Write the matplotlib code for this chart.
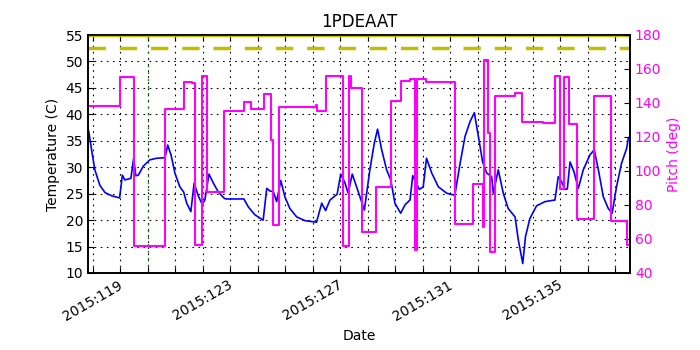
import matplotlib
matplotlib.use("Agg")
import matplotlib.pyplot as plt
from matplotlib.ticker import FixedLocator, FuncFormatter
import numpy as np

title = "1PDEAAT"
planning_limit = 52.5
caution_limit = 55.0
marker_day = 121.0

# temperature (C) vs day of year 2015
temp_days = [118.82, 118.85, 118.95, 119.07, 119.25, 119.44, 119.68, 119.97, 120.07, 120.16,
             120.38, 120.48, 120.56, 120.65, 120.83, 121.07, 121.32, 121.62, 121.72, 121.84,
             121.98, 122.16, 122.30, 122.41, 122.56, 122.68, 122.83, 122.97, 123.07, 123.22,
             123.38, 123.56, 123.78, 123.86, 124.49, 124.65, 124.89, 125.19, 125.32, 125.44,
             125.56, 125.68, 125.83, 125.98, 126.16, 126.41, 126.71, 127.13, 127.32, 127.46,
             127.62, 127.88, 128.01, 128.16, 128.28, 128.43, 128.71, 128.87, 129.07, 129.23,
             129.35, 129.50, 129.68, 129.83, 129.98, 130.19, 130.35, 130.53, 130.63, 130.73,
             130.87, 131.01, 131.13, 131.32, 131.56, 131.86, 132.16, 132.35, 132.53, 132.71,
             132.87, 133.04, 133.17, 133.32, 133.50, 133.56, 133.74, 133.92, 134.10, 134.35,
             134.47, 134.63, 134.73, 134.89, 135.13, 135.44, 135.80, 135.92, 136.04, 136.16,
             136.25, 136.35, 136.49, 136.65, 136.83, 137.07, 137.23, 137.38, 137.56, 137.74,
             137.88, 138.04, 138.22, 138.41, 138.47, 138.53]
temp_vals = [37.2, 36.7, 33.3, 29.5, 26.6, 25.2, 24.6, 24.2, 28.5, 27.6,
             27.9, 31.7, 28.4, 28.5, 30.2, 31.4, 31.7, 31.8, 34.2, 32.3,
             28.9, 26.3, 25.3, 23.2, 21.6, 27.0, 24.6, 23.0, 23.8, 28.7,
             27.0, 25.3, 24.1, 24.0, 24.0, 22.5, 21.0, 20.0, 26.0, 25.5,
             25.4, 23.5, 27.5, 24.4, 22.2, 20.6, 19.9, 19.6, 23.2, 21.8,
             23.8, 24.9, 28.7, 27.1, 25.1, 28.7, 24.4, 21.9, 29.5, 34.5,
             37.2, 33.3, 29.5, 27.6, 23.2, 21.3, 22.9, 23.8, 28.4, 27.3,
             25.8, 26.3, 31.7, 28.9, 26.3, 25.1, 24.7, 30.7, 35.8, 38.6,
             40.3, 35.1, 31.0, 28.9, 28.2, 25.1, 29.5, 25.1, 22.2, 20.6,
             16.2, 11.8, 16.9, 20.3, 22.7, 23.5, 23.8, 28.2, 27.3, 25.8,
             25.9, 31.0, 29.2, 26.0, 29.5, 32.3, 33.3, 29.5, 24.4, 22.2,
             21.3, 26.3, 30.7, 33.6, 35.5, 35.8]

# pitch (deg): value held from each change time
pitch_days = [118.80, 119.98, 120.49, 121.63, 122.30, 122.61, 122.71, 122.95, 123.16, 123.76,
              124.49, 124.75, 125.23, 125.46, 125.53, 125.78, 127.10, 127.14, 127.46, 128.08,
              128.30, 128.38, 128.79, 129.30, 129.84, 130.19, 130.53, 130.71, 130.79, 131.11,
              132.16, 132.83, 133.17, 133.22, 133.36, 133.44, 133.62, 134.35, 134.62, 135.35,
              135.80, 136.00, 136.13, 136.32, 136.61, 137.23, 137.83, 138.43, 138.53]
pitch_vals = [138.0, 155.5, 56.0, 136.3, 152.3, 151.6, 56.5, 156.0, 87.5, 135.5,
              140.8, 136.5, 145.5, 118.2, 68.2, 137.8, 139.0, 135.5, 155.9, 55.9,
              155.9, 148.6, 64.1, 90.8, 141.4, 153.1, 154.1, 53.5, 154.1, 152.5,
              68.8, 92.5, 67.2, 165.3, 122.2, 52.5, 144.3, 146.0, 129.0, 128.4,
              155.9, 89.2, 155.5, 127.8, 71.8, 144.1, 70.8, 56.5, 56.5]

label_days = [119, 123, 127, 131, 135]

dots = (0, (1.5, 4))

fig = plt.figure(figsize=(7, 3.5), dpi=100)
ax = fig.add_axes([0.1257, 0.22, 0.7743, 0.68])

ax.plot(temp_days, temp_vals, color="b", lw=1.2)
ax.axhline(caution_limit, color=(0.75, 0.75, 0), lw=2.5, zorder=5)
ax.axhline(planning_limit, color=(0.75, 0.75, 0), lw=2.5, ls="--", dashes=(5, 4))
ax.axvline(marker_day, color=(0, 0.5, 0), ls=dots, lw=0.9)

ax.set_xlim(118.82, 138.53)
ax.set_ylim(10, 55)
ax.set_yticks(np.arange(10, 56, 5))
ax.xaxis.set_major_locator(FixedLocator(np.arange(119, 139)))
ax.xaxis.set_major_formatter(FuncFormatter(
    lambda v, p: "2015:%03d" % int(round(v)) if int(round(v)) in label_days else ""))
for lbl in ax.get_xticklabels():
    lbl.set_rotation(30)
    lbl.set_ha("center")
ax.grid(True, color="k", ls=dots, lw=0.8)
ax.tick_params(direction="in", top=True, length=4, labelsize=10)
ax.set_xlabel("Date", fontsize=10)
ax.set_ylabel("Temperature (C)", fontsize=10)
ax.set_title(title, fontsize=12)

ax2 = ax.twinx()
ax2.step(pitch_days, pitch_vals, where="post", color="magenta", lw=1.5)
ax2.set_ylim(40, 180)
ax2.set_yticks(np.arange(40, 181, 20))
ax2.tick_params(direction="in", length=4, labelsize=10, labelcolor="magenta")
ax2.set_ylabel("Pitch (deg)", color="magenta", fontsize=10)

for a in (ax, ax2):
    for s in a.spines.values():
        s.set_linewidth(1.2)

fig.savefig("out.png", dpi=100)
